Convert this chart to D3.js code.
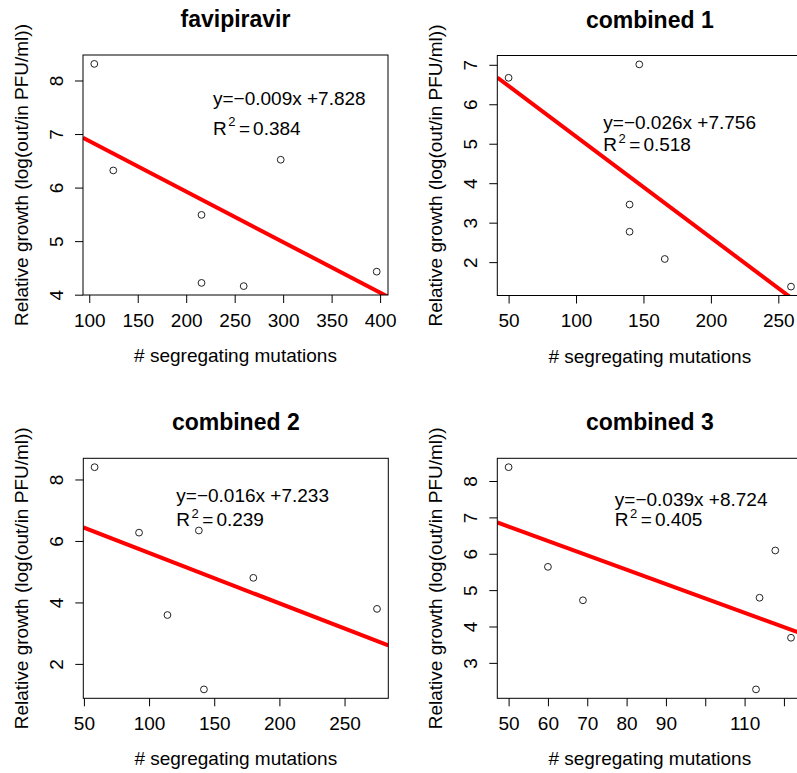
<!DOCTYPE html>
<html>
<head>
<meta charset="utf-8">
<script src="https://cdn.jsdelivr.net/npm/d3@7"></script>
<style>
  body { margin: 0; background: #fff; }
  svg text { font-family: "Liberation Sans", Arial, Helvetica, sans-serif; fill: #000; }
  .title { font-size: 23px; font-weight: bold; }
  .lab, .tick, .eq { font-size: 19px; }
  .box { fill: none; stroke: #000; stroke-width: 1; }
  .pt { fill: none; stroke: #222; stroke-width: 1; }
  .fit { stroke: #ff0000; stroke-width: 4; }
</style>
</head>
<body>
<svg id="chart" width="797" height="773"></svg>
<script>
// --- data ---
const titles = ["favipiravir", "combined 1", "combined 2", "combined 3"];

const favipiravirX = [105.2, 124.8, 215.8, 215.8, 259.3, 297.5, 396.5];
const favipiravirY = [8.31, 6.32, 5.49, 4.22, 4.16, 6.52, 4.43];

const combined1X = [50, 146.9, 139.7, 139.7, 165.8, 259.4];
const combined1Y = [6.67, 7.01, 3.46, 2.77, 2.08, 1.38];

const combined2X = [58.2, 92.3, 138.2, 114.1, 142.1, 180, 274.9];
const combined2Y = [8.40, 6.27, 6.34, 3.59, 1.17, 4.80, 3.79];

const combined3X = [50, 60, 68.9, 117.8, 113.8, 112.9, 121.8];
const combined3Y = [8.38, 5.64, 4.72, 6.09, 4.79, 2.27, 3.69];

const xTicks = [
  [100, 150, 200, 250, 300, 350, 400],
  [50, 100, 150, 200, 250],
  [50, 100, 150, 200, 250],
  [50, 60, 70, 80, 90, 100, 110, 120]
];
const xTickLabels = [
  ["100", "150", "200", "250", "300", "350", "400"],
  ["50", "100", "150", "200", "250"],
  ["50", "100", "150", "200", "250"],
  ["50", "60", "70", "80", "90", "", "110", ""]
];
const yTicks = [
  [4, 5, 6, 7, 8],
  [2, 3, 4, 5, 6, 7],
  [2, 4, 6, 8],
  [3, 4, 5, 6, 7, 8]
];

const eqLabels = ["y=\u22120.009x +7.828", "y=\u22120.026x +7.756", "y=\u22120.016x +7.233", "y=\u22120.039x +8.724"];
const r2Labels = ["0.384", "0.518", "0.239", "0.405"];

const xLabel = "# segregating mutations";
const yLabel = "Relative growth (log(out/in PFU/ml))";

// --- layout ---
const panels = [
  { x: favipiravirX, y: favipiravirY, left: 83,    top: 55,    eq: [130, 50, 79.5] },
  { x: combined1X,   y: combined1Y,   left: 497.3, top: 55.5,  eq: [106, 73, 95.5] },
  { x: combined2X,   y: combined2Y,   left: 83.3,  top: 458.3, eq: [93, 44, 68] },
  { x: combined3X,   y: combined3Y,   left: 497.3, top: 458.3, eq: [117.5, 48, 68] }
];
const W = 305, H = 240, tickLen = 8;

const svg = d3.select("#chart");

// R-style padded extent (4% each side)
function padded(v) {
  const [a, b] = d3.extent(v), d = (b - a) * 0.04;
  return [a - d, b + d];
}

// least squares fit
function fit(xs, ys) {
  const mx = d3.mean(xs), my = d3.mean(ys);
  const sxy = d3.sum(xs, (x, i) => (x - mx) * (ys[i] - my));
  const sxx = d3.sum(xs, x => (x - mx) ** 2);
  const b = sxy / sxx;
  return { b, a: my - b * mx };
}

panels.forEach((p, k) => {
  const g = svg.append("g").attr("transform", `translate(${p.left},${p.top})`);
  const x = d3.scaleLinear().domain(padded(p.x)).range([0, W]);
  const y = d3.scaleLinear().domain(padded(p.y)).range([H, 0]);

  g.append("clipPath").attr("id", "clip" + k)
    .append("rect").attr("width", W).attr("height", H);

  // regression line, clipped to plot region
  const f = fit(p.x, p.y);
  const [x0, x1] = x.domain();
  g.append("line").attr("class", "fit").attr("clip-path", `url(#clip${k})`)
    .attr("x1", x(x0)).attr("y1", y(f.a + f.b * x0))
    .attr("x2", x(x1)).attr("y2", y(f.a + f.b * x1));

  // points
  g.selectAll("circle.pt").data(p.x).join("circle")
    .attr("class", "pt")
    .attr("cx", d => x(d))
    .attr("cy", (d, i) => y(p.y[i]))
    .attr("r", 3.4);

  g.append("rect").attr("class", "box").attr("width", W).attr("height", H);

  // x axis
  const xa = g.append("g").attr("transform", `translate(0,${H})`)
    .call(d3.axisBottom(x).tickValues(xTicks[k]).tickSize(tickLen).tickPadding(8)
      .tickFormat((d, i) => xTickLabels[k][i]));
  xa.select(".domain").remove();
  xa.selectAll("line").attr("stroke", "#000");
  xa.selectAll("text").attr("class", "tick").attr("dy", null).attr("y", 31.7)
    .style("font-size", "19px").attr("fill", "#000");

  // y axis (labels parallel to axis)
  const ya = g.append("g")
    .call(d3.axisLeft(y).tickValues(yTicks[k]).tickSize(tickLen).tickFormat(d3.format("d")));
  ya.select(".domain").remove();
  ya.selectAll("line").attr("stroke", "#000");
  ya.selectAll("text").attr("class", "tick").attr("x", null).attr("dy", null)
    .attr("text-anchor", "middle").attr("transform", "translate(-20,0) rotate(-90)")
    .style("font-size", "19px").attr("fill", "#000");

  // titles and axis labels
  g.append("text").attr("class", "title").attr("x", W / 2).attr("y", -28)
    .attr("text-anchor", "middle").text(titles[k]);
  g.append("text").attr("class", "lab").attr("x", W / 2).attr("y", H + 67)
    .attr("text-anchor", "middle").text(xLabel);
  g.append("text").attr("class", "lab").attr("text-anchor", "middle")
    .attr("transform", `translate(-55,${H / 2}) rotate(-90)`).text(yLabel);

  // equation and R^2
  const [ex, ey1, ey2] = p.eq;
  g.append("text").attr("class", "eq").attr("x", ex).attr("y", ey1).text(eqLabels[k]);
  const r2 = g.append("text").attr("class", "eq").attr("x", ex).attr("y", ey2);
  r2.append("tspan").text("R");
  r2.append("tspan").attr("dx", 1.5).attr("dy", -8.5).style("font-size", "13px").text("2");
  r2.append("tspan").attr("dx", 3.5).attr("dy", 8.5).text("=");
  r2.append("tspan").attr("dx", 3).text(r2Labels[k]);
});
</script>
</body>
</html>
